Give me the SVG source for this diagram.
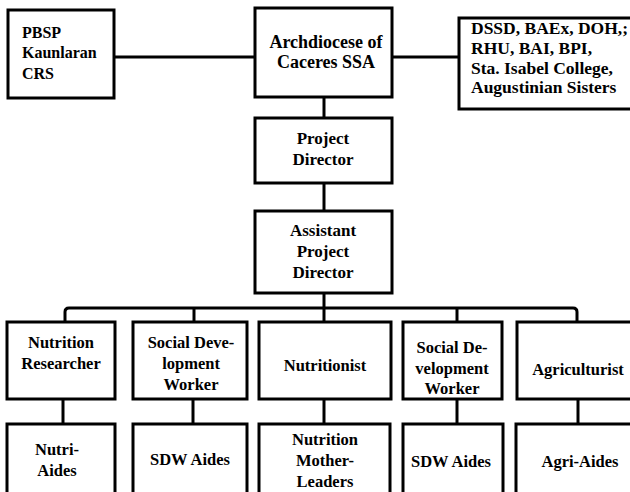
<svg xmlns="http://www.w3.org/2000/svg" width="630" height="492" viewBox="0 0 630 492">
<style>
.box{fill:#fff;stroke:#000;stroke-width:3}
.ln{fill:none;stroke:#000;stroke-width:3}
text{font-family:"Liberation Serif","Times New Roman",serif;font-weight:bold;font-size:16.5px;fill:#000}
.c{text-anchor:middle}
.t1{font-size:16px}
.t2{font-size:18px}
.t3{font-size:17.5px}
.t4{font-size:17px}
</style>
<rect width="630" height="492" fill="#fff"/>
<g id="connectors">
<path class="ln" d="M114,57 H255"/>
<path class="ln" d="M392,57 H459"/>
<path class="ln" d="M324,97 V118"/>
<path class="ln" d="M324,183 V211"/>
<path class="ln" d="M324,293 V322"/>
<path class="ln" d="M65,322 V312 Q65,308 69,308 H573 Q577,308 577,312 V322"/>
<path class="ln" d="M194,308 V322"/>
<path class="ln" d="M457,308 V322"/>
<path class="ln" d="M63,399 V424"/>
<path class="ln" d="M193,399 V424"/>
<path class="ln" d="M324,399 V424"/>
<path class="ln" d="M457,399 V424"/>
<path class="ln" d="M578,399 V424"/>
</g>
<g id="pbsp">
<rect class="box" x="8" y="10" width="106" height="88"/>
<text class="t1" x="22" y="38">PBSP</text>
<text class="t1" x="22" y="58">Kaunlaran</text>
<text class="t1" x="22" y="79">CRS</text>
</g>
<g id="archdiocese">
<rect class="box" x="255" y="8" width="137" height="89"/>
<text class="c t2" x="326" y="48">Archdiocese of</text>
<text class="c t2" x="326" y="68">Caceres SSA</text>
</g>
<g id="agencies">
<rect class="box" x="459" y="18" width="200" height="91"/>
<text class="t3" x="471" y="34">DSSD, BAEx, DOH,;</text>
<text class="t3" x="471" y="54">RHU, BAI, BPI,</text>
<text class="t3" x="471" y="74">Sta. Isabel College,</text>
<text class="t3" x="471" y="93">Augustinian Sisters</text>
</g>
<g id="project-director">
<rect class="box" x="255" y="118" width="137" height="65"/>
<text class="c t4" x="323" y="144">Project</text>
<text class="c t4" x="323" y="165">Director</text>
</g>
<g id="assistant-director">
<rect class="box" x="255" y="211" width="137" height="82"/>
<text class="c t4" x="323" y="236">Assistant</text>
<text class="c t4" x="323" y="257">Project</text>
<text class="c t4" x="323" y="278">Director</text>
</g>
<g id="nutrition-researcher">
<rect class="box" x="7" y="322" width="108" height="77"/>
<text class="c" x="61" y="348">Nutrition</text>
<text class="c" x="61" y="369">Researcher</text>
</g>
<g id="sdw-1">
<rect class="box" x="133" y="322" width="114" height="77"/>
<text class="c" x="191" y="348">Social Deve-</text>
<text class="c" x="191" y="369">lopment</text>
<text class="c" x="191" y="390">Worker</text>
</g>
<g id="nutritionist">
<rect class="box" x="259" y="322" width="132" height="77"/>
<text class="c" x="325" y="371">Nutritionist</text>
</g>
<g id="sdw-2">
<rect class="box" x="403" y="322" width="99" height="77"/>
<text class="c" x="452" y="353">Social De-</text>
<text class="c" x="452" y="374">velopment</text>
<text class="c" x="452" y="394">Worker</text>
</g>
<g id="agriculturist">
<rect class="box" x="517" y="322" width="130" height="77"/>
<text class="c" x="578" y="375">Agriculturist</text>
</g>
<g id="nutri-aides">
<rect class="box" x="7" y="424" width="108" height="80"/>
<text class="c" x="57" y="455">Nutri-</text>
<text class="c" x="57" y="476">Aides</text>
</g>
<g id="sdw-aides-1">
<rect class="box" x="133" y="424" width="114" height="80"/>
<text class="c" x="190" y="465">SDW Aides</text>
</g>
<g id="mother-leaders">
<rect class="box" x="259" y="424" width="131" height="80"/>
<text class="c" x="325" y="445">Nutrition</text>
<text class="c" x="325" y="466">Mother-</text>
<text class="c" x="325" y="487">Leaders</text>
</g>
<g id="sdw-aides-2">
<rect class="box" x="403" y="424" width="100" height="80"/>
<text class="c" x="451" y="467">SDW Aides</text>
</g>
<g id="agri-aides">
<rect class="box" x="516" y="424" width="130" height="80"/>
<text class="c" x="580" y="467">Agri-Aides</text>
</g>
</svg>
